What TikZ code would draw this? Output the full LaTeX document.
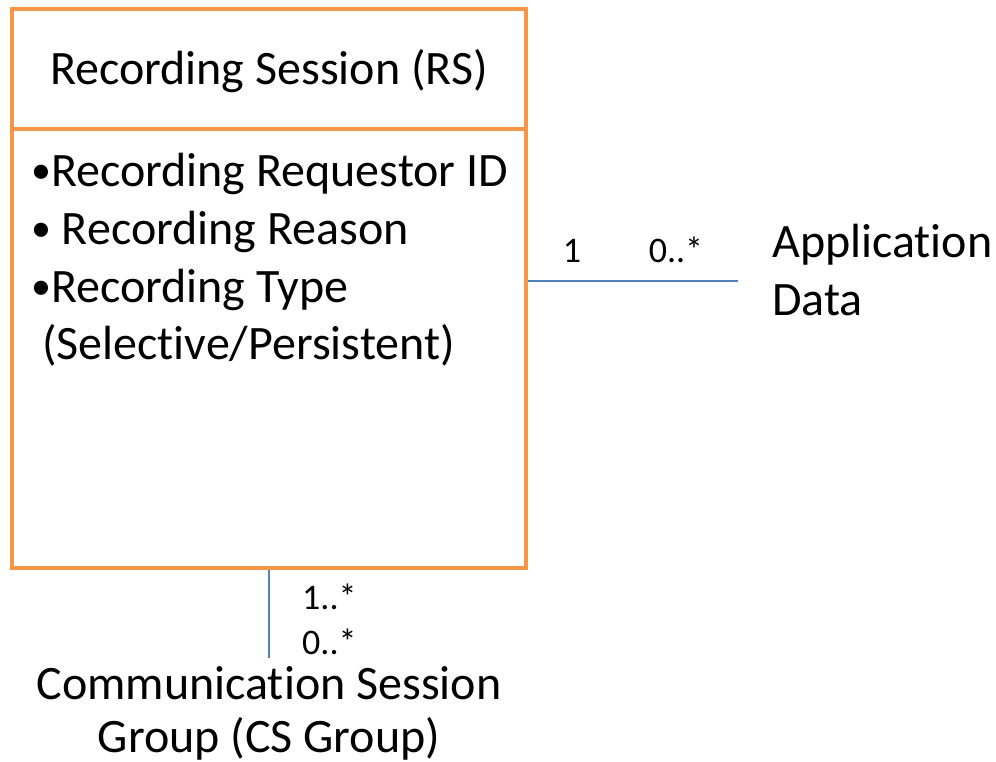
\documentclass[tikz,border=0pt]{standalone}
\usepackage{fontspec}
\setmainfont[Ligatures={NoCommon}]{Carlito}
\definecolor{rsorange}{HTML}{F79646}
\definecolor{rsblue}{HTML}{4F81BD}
\newcommand{\rsbul}{\raisebox{3pt}{\fontsize{40}{40}\selectfont •}}
\begin{document}
\begin{tikzpicture}[x=1pt,y=-1pt,
  big/.style={font=\fontsize{48}{52}\selectfont, inner sep=0pt},
  small/.style={font=\fontsize{36}{40}\selectfont, inner sep=0pt},
  boxline/.style={draw=rsorange, line width=4pt},
  link/.style={draw=rsblue, line width=1.3pt}]
\useasboundingbox (0,0) rectangle (996,762);
\node[boxline, minimum width=514pt, minimum height=559pt, inner sep=0pt] (rs) at (269,288.5) {};
\coordinate (divL) at (12,129);
\coordinate (divR) at (526,129);
\draw[draw=rsorange, line width=4pt] (divL) -- (divR);
\node[big, anchor=base] (title) at (269,85) {Recording Session (RS)};
\node[big, anchor=base west] (a1) at (31,187) {\rsbul Recording Requestor ID};
\node[big, anchor=base west] (a2) at (31,244) {\rsbul{} Recording Reason};
\node[big, anchor=base west] (a3) at (31,302) {\rsbul Recording Type};
\node[big, anchor=base west] (a4) at (31,359) {\ (Selective/Persistent)};
\coordinate (appEnd) at (738,281);
\draw[link] (rs.east |- appEnd) -- (appEnd);
\node[small, anchor=base] (m1) at (572,262) {1};
\node[small, anchor=base] (m2) at (676,262) {0..*};
\node[big, anchor=base west] (app1) at (772,258) {Application};
\node[big, anchor=base west] (app2) at (772,315) {Data};
\coordinate (csTop) at (269,658);
\draw[link] (rs.south |- 0,570) -- (csTop);
\node[small, anchor=base west] (m3) at (302,609) {1..*};
\node[small, anchor=base west] (m4) at (302,654) {0..*};
\node[big, anchor=base] (cs1) at (269,699) {Communication Session};
\node[big, anchor=base] (cs2) at (269,752) {Group (CS Group)};
\end{tikzpicture}
\end{document}
